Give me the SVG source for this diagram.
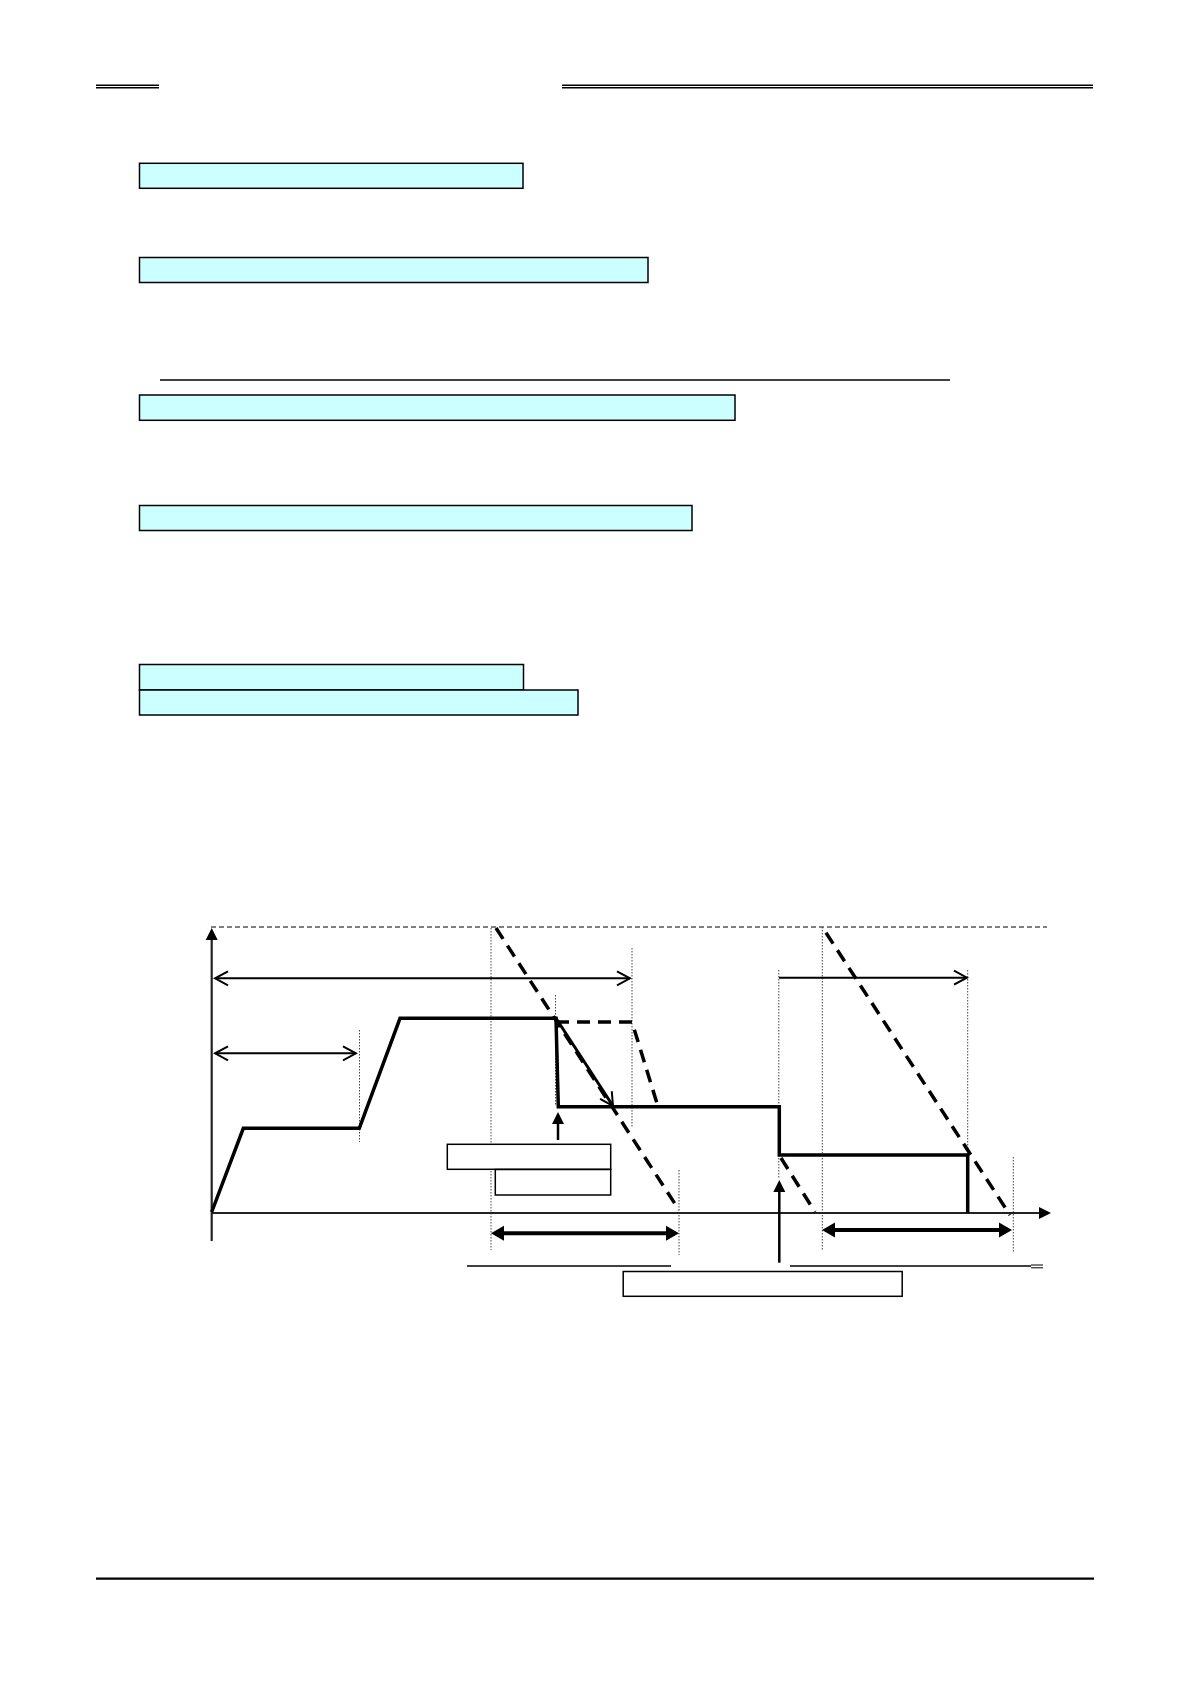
<svg xmlns="http://www.w3.org/2000/svg" width="1191" height="1684" viewBox="0 0 1191 1684">
<style>
.bg{fill:#ffffff}
.cyan{fill:#ccffff;stroke:#000;stroke-width:1.5}
.wbox{fill:#ffffff;stroke:#000;stroke-width:1.5}
.rule{stroke:#000;stroke-width:1.4;fill:none}
.thick{stroke:#000;stroke-width:3.5;fill:none;stroke-linejoin:miter}
.dash{stroke:#000;stroke-width:3.5;fill:none;stroke-dasharray:13 8}
.dot{stroke:#444;stroke-width:1;fill:none;stroke-dasharray:1.5 1.5}
.topdash{stroke:#000;stroke-width:1;fill:none;stroke-dasharray:5 3}
.thin{stroke:#000;stroke-width:2;fill:none}
.axis{stroke:#222;stroke-width:2.2;fill:none}
.bold{stroke:#000;stroke-width:4;fill:none}
</style>
<defs>
<marker id="open" markerUnits="userSpaceOnUse" viewBox="-16 -10 18 20" markerWidth="18" markerHeight="20" refX="0" refY="0" orient="auto-start-reverse">
<path d="M-13,-7 L0,0 L-13,7" fill="none" stroke="#000" stroke-width="2"/>
</marker>
<marker id="solid" markerUnits="userSpaceOnUse" viewBox="-14 -8 16 16" markerWidth="16" markerHeight="16" refX="-3" refY="0" orient="auto-start-reverse">
<path d="M-12,-6 L0,0 L-12,6 z" fill="#000"/>
</marker>
<marker id="boldhead" markerUnits="userSpaceOnUse" viewBox="-15 -9 17 18" markerWidth="17" markerHeight="18" refX="-4" refY="0" orient="auto-start-reverse">
<path d="M-13,-7.5 L0,0 L-13,7.5 z" fill="#000"/>
</marker>
</defs>
<rect class="bg" x="0" y="0" width="1191" height="1684"/>

<g id="header">
<line class="rule" x1="96" y1="85.3" x2="159" y2="85.3"/>
<line class="rule" x1="96" y1="87.8" x2="159" y2="87.8"/>
<line class="rule" x1="562" y1="85.3" x2="1093" y2="85.3"/>
<line class="rule" x1="562" y1="87.8" x2="1093" y2="87.8"/>
</g>

<g id="box1"><rect class="cyan" x="139.5" y="163.3" width="383.5" height="25"/></g>
<g id="box2"><rect class="cyan" x="139.5" y="257.5" width="508.5" height="25"/></g>
<g id="rule-above-box3"><line class="rule" x1="160" y1="380" x2="950" y2="380"/></g>
<g id="box3"><rect class="cyan" x="139.5" y="395" width="595.5" height="25.3"/></g>
<g id="box4"><rect class="cyan" x="139.5" y="505.5" width="552.5" height="25"/></g>
<g id="box5"><rect class="cyan" x="139.5" y="664.5" width="384" height="25.5"/></g>
<g id="box6"><rect class="cyan" x="139.5" y="690" width="438.5" height="25"/></g>

<g id="chart-guides">
<line class="topdash" x1="211" y1="927" x2="1047" y2="927"/>
<line class="dot" x1="359.5" y1="1030" x2="359.5" y2="1142"/>
<line class="dot" x1="491" y1="928" x2="491" y2="1250"/>
<line class="dot" x1="555.5" y1="995" x2="555.5" y2="1106"/>
<line class="dot" x1="632" y1="948" x2="632" y2="1127"/>
<line class="dot" x1="679" y1="1170" x2="679" y2="1255"/>
<line class="dot" x1="778.8" y1="970" x2="778.8" y2="1106"/>
<line class="dot" x1="778.8" y1="1155" x2="778.8" y2="1178"/>
<line class="dot" x1="822.3" y1="927" x2="822.3" y2="1250"/>
<line class="dot" x1="967.7" y1="970" x2="967.7" y2="1155"/>
<line class="dot" x1="1013.3" y1="1157" x2="1013.3" y2="1252"/>
</g>

<g id="connectors">
<line class="axis" x1="211.7" y1="1241" x2="211.7" y2="931" marker-end="url(#solid)"/>
<line class="axis" x1="211.7" y1="1213" x2="1048" y2="1213" marker-end="url(#solid)"/>
<line class="thin" x1="215" y1="978.3" x2="630" y2="978.3" marker-start="url(#open)" marker-end="url(#open)"/>
<line class="thin" x1="215" y1="1053.3" x2="356" y2="1053.3" marker-start="url(#open)" marker-end="url(#open)"/>
<line class="thin" x1="779" y1="977.7" x2="967" y2="977.7" marker-end="url(#open)"/>
<line class="thin" x1="556" y1="1018.3" x2="613" y2="1106" marker-end="url(#open)" style="stroke-width:3"/>
<line class="bold" x1="495" y1="1233.3" x2="675" y2="1233.3" marker-start="url(#boldhead)" marker-end="url(#boldhead)"/>
<line class="bold" x1="826" y1="1230" x2="1008" y2="1230" marker-start="url(#boldhead)" marker-end="url(#boldhead)"/>
<line class="thin" x1="558" y1="1140" x2="558" y2="1115" marker-end="url(#solid)" style="stroke-width:2.5"/>
<line class="thin" x1="779.3" y1="1262.7" x2="779.3" y2="1183" marker-end="url(#solid)" style="stroke-width:2.5"/>
</g>

<g id="profile">
<path class="thick" d="M211.7,1212 L243.3,1128.3 L359.3,1128.3 L400,1018.3 L556,1018.3 L558.3,1106.7 L779.3,1106.7 L779.3,1155 L967.7,1155 L967.7,1212.7"/>
<path class="dash" d="M556,1022 L632,1022 L658,1106.7"/>
<path class="dash" d="M496,928 L679,1210"/>
<path class="dash" d="M826,932.7 L1010,1215"/>
<path class="dash" d="M781,1158 L815,1212"/>
</g>

<g id="labelA"><rect class="wbox" x="447.3" y="1144.3" width="163.4" height="25"/></g>
<g id="labelB"><rect class="wbox" x="495.3" y="1169.5" width="115.4" height="25.5"/></g>
<g id="labelC"><rect class="wbox" x="623.2" y="1271.5" width="279" height="24.8"/></g>

<g id="bottom-rules">
<line class="rule" x1="467" y1="1266" x2="671" y2="1266"/>
<line class="rule" x1="790" y1="1266" x2="1031" y2="1266"/>
<line stroke="#000" stroke-width="1" x1="1031" y1="1265" x2="1043" y2="1265"/>
<line stroke="#000" stroke-width="1" x1="1031" y1="1267.8" x2="1043" y2="1267.8"/>
</g>

<g id="footer"><line stroke="#000" stroke-width="2.2" x1="96" y1="1578.7" x2="1094" y2="1578.7"/></g>
</svg>
